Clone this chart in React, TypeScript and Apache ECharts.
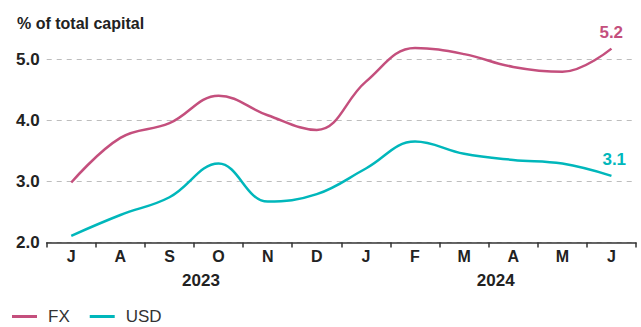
import React, { useEffect, useRef } from "react";
import * as echarts from "echarts";

const months = ["J", "A", "S", "O", "N", "D", "J", "F", "M", "A", "M", "J"];
const years = ["2023", "2024"];
const fxValues = [2.98, 3.71, 3.95, 4.4, 4.08, 3.84, 4.63, 5.18, 5.08, 4.87, 4.79, 5.17];
const usdValues = [2.11, 2.45, 2.74, 3.29, 2.67, 2.79, 3.21, 3.65, 3.45, 3.35, 3.29, 3.09];
const yTicks = [2, 3, 4, 5];
const endLabels = ["5.2", "3.1"];

const FX_COLOR = "#c44f7d";
const USD_COLOR = "#00b7bb";
const FONT = "'Liberation Sans', Arial, sans-serif";

function endLabel(text: string, color: string, dx: number) {
  return {
    show: true,
    formatter: text,
    color,
    fontFamily: FONT,
    fontWeight: "bold",
    fontSize: 17,
    offset: [dx, -16],
  };
}

export default function App() {
  const ref = useRef<HTMLDivElement>(null);
  useEffect(() => {
    if (!ref.current) return;
    const chart = echarts.init(ref.current, null, { renderer: "svg" });
    chart.setOption({
      animation: false,
      textStyle: { fontFamily: FONT },
      title: {
        text: "% of total capital",
        left: 12,
        top: 10,
        textStyle: { fontFamily: FONT, fontSize: 16, fontWeight: "bold", color: "#222" },
      },
      legend: {
        left: 12,
        top: 308,
        padding: 0,
        icon: "rect",
        itemWidth: 25,
        itemHeight: 3,
        itemGap: 20,
        textStyle: { fontFamily: FONT, fontSize: 17, color: "#333", padding: [0, 0, 0, 6] },
        data: ["FX", "USD"],
      },
      grid: { left: 46.7, right: 5, top: 59, bottom: 84.5 },
      xAxis: [
        {
          type: "category",
          data: months,
          boundaryGap: true,
          axisLine: { lineStyle: { color: "#333", width: 1.5 } },
          axisTick: { show: true, length: 5, lineStyle: { color: "#333", width: 1.5 } },
          axisLabel: {
            margin: 6,
            color: "#222",
            fontFamily: FONT,
            fontWeight: "bold",
            fontSize: 16,
          },
        },
        {
          type: "category",
          data: years,
          position: "bottom",
          offset: 24,
          boundaryGap: true,
          axisLine: { show: false },
          axisTick: { show: false },
          axisLabel: {
            margin: 5,
            color: "#222",
            fontFamily: FONT,
            fontWeight: "bold",
            fontSize: 17,
            padding: [0, 0, 0, 14],
          },
        },
      ],
      yAxis: {
        type: "value",
        min: yTicks[0],
        max: yTicks[yTicks.length - 1],
        interval: 1,
        axisLine: { show: false },
        axisTick: { show: false },
        axisLabel: {
          margin: 7,
          color: "#222",
          fontFamily: FONT,
          fontWeight: "bold",
          fontSize: 17,
          formatter: (v: number) => v.toFixed(1),
        },
        splitLine: { show: true, lineStyle: { color: "#bdbdbd", type: [5, 5], width: 1.2 } },
      },
      series: [
        {
          name: "FX",
          type: "line",
          data: fxValues,
          smooth: 0.4,
          symbol: "none",
          clip: false,
          color: FX_COLOR,
          lineStyle: { color: FX_COLOR, width: 2.5 },
          endLabel: endLabel(endLabels[0], FX_COLOR, -20),
        },
        {
          name: "USD",
          type: "line",
          data: usdValues,
          smooth: 0.4,
          symbol: "none",
          clip: false,
          color: USD_COLOR,
          lineStyle: { color: USD_COLOR, width: 2.5 },
          endLabel: endLabel(endLabels[1], USD_COLOR, -17),
        },
      ],
    });
    return () => chart.dispose();
  }, []);
  return (
    <div
      ref={ref}
      style={{ position: "fixed", left: 0, top: 0, width: 641, height: 327, background: "#fff" }}
    />
  );
}
